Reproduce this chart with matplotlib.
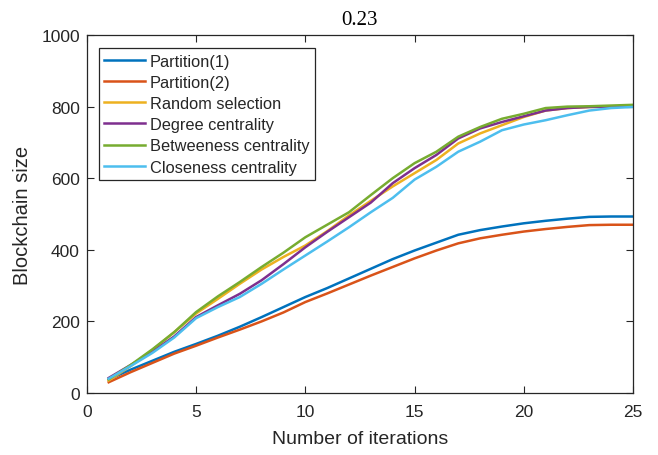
import numpy as np
import matplotlib
matplotlib.use('Agg')
import matplotlib.pyplot as plt

plt.rcParams['font.family'] = ['Liberation Sans', 'DejaVu Sans']

# Blockchain size per iteration for each selection strategy
iterations = np.arange(1, 26)
partition_1 = [38, 65, 90, 115, 137, 160, 185, 212, 240, 268, 293, 320, 347,
               374, 398, 420, 442, 455, 465, 474, 481, 487, 492, 493, 493]
partition_2 = [30, 58, 84, 110, 132, 155, 177, 200, 225, 254, 278, 303, 328,
               352, 376, 398, 418, 432, 442, 451, 458, 464, 469, 470, 470]
random_sel = [35, 75, 120, 170, 222, 263, 305, 345, 380, 412, 452, 496, 537,
              577, 614, 651, 697, 725, 748, 771, 789, 796, 799, 800, 803]
degree_c = [42, 78, 115, 158, 212, 245, 277, 315, 360, 407, 450, 491, 532,
            586, 628, 665, 711, 739, 757, 773, 789, 796, 799, 800, 803]
between_c = [38, 78, 122, 170, 226, 270, 310, 352, 392, 435, 470, 505, 553,
             600, 642, 674, 716, 743, 766, 780, 796, 800, 801, 803, 805]
close_c = [40, 75, 112, 155, 209, 240, 268, 305, 345, 384, 423, 463, 505,
           545, 596, 632, 674, 702, 734, 750, 762, 776, 789, 796, 799]

labels = ['Partition(1)', 'Partition(2)', 'Random selection',
          'Degree centrality', 'Betweeness centrality', 'Closeness centrality']
colors = ['#0072BD', '#D95319', '#EDB120', '#7E2F8E', '#77AC30', '#4DBEEE']
series = [partition_1, partition_2, random_sel, degree_c, between_c, close_c]

fig = plt.figure(figsize=(6.58, 4.56), dpi=100)
ax = fig.add_axes([0.132, 0.136, 0.830, 0.785])

for ys, lab, c in zip(series, labels, colors):
    ax.plot(iterations, ys, color=c, lw=1.8, label=lab)

ax.set_xlim(0, 25)
ax.set_ylim(0, 1000)
ax.set_xticks([0, 5, 10, 15, 20, 25])
ax.set_yticks([0, 200, 400, 600, 800, 1000])

edge = '#262626'
for sp in ax.spines.values():
    sp.set_color(edge)
    sp.set_linewidth(0.9)
ax.tick_params(direction='in', length=5, width=0.8, colors=edge,
               labelsize=12.5, top=True, right=True)
ax.tick_params(axis='x', pad=8)
ax.tick_params(axis='y', pad=5)
for t in ax.get_xticklabels() + ax.get_yticklabels():
    t.set_color('#262626')

ax.set_xlabel('Number of iterations', fontsize=14, color='#262626', labelpad=8)
ax.set_ylabel('Blockchain size', fontsize=14.5, color='#262626', labelpad=7)
ax.set_title('0.23', fontsize=15, family='Liberation Serif', pad=8)

leg = ax.legend(loc='upper left', bbox_to_anchor=(0.022, 0.963), fontsize=11.8,
                handlelength=2.5, handletextpad=0.3, labelspacing=0.38,
                borderpad=0.32, borderaxespad=0.0, frameon=True, fancybox=False,
                edgecolor=edge, framealpha=1)
leg.get_frame().set_linewidth(0.9)
for t in leg.get_texts():
    t.set_color('#262626')

fig.savefig('out.png', dpi=100)
